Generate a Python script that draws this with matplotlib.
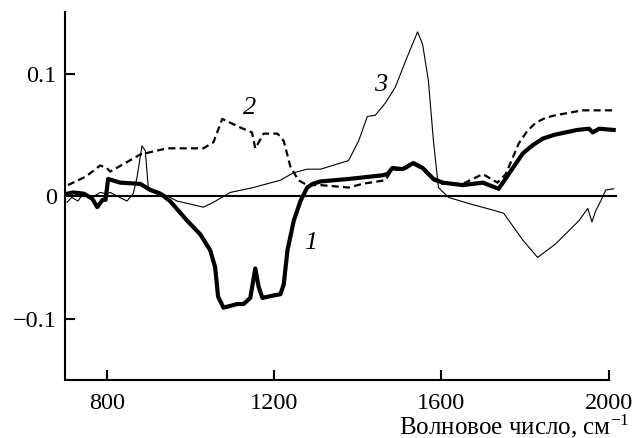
import numpy as np
import matplotlib
matplotlib.use("Agg")
import matplotlib.pyplot as plt

plt.rcParams['font.family'] = ['Liberation Serif', 'DejaVu Serif']
plt.rcParams['mathtext.fontset'] = 'stix'

# curve 1 (thick solid)
x1 = [705, 720, 745, 765, 777, 790, 797, 803, 832, 880, 904, 928, 951, 992, 1023,
      1047, 1059, 1066, 1079, 1112, 1127, 1143, 1155, 1163, 1172, 1199, 1215, 1223,
      1232, 1247, 1263, 1279, 1292, 1311, 1378, 1459, 1471, 1483, 1507, 1533, 1555,
      1581, 1603, 1651, 1699, 1737, 1761, 1795, 1820, 1843, 1870, 1897, 1925, 1953,
      1962, 1977, 2012]
y1 = [0.002, 0.003, 0.002, -0.002, -0.009, -0.003, -0.003, 0.014, 0.011, 0.010,
      0.005, 0.002, -0.004, -0.020, -0.031, -0.044, -0.058, -0.082, -0.091, -0.088,
      -0.088, -0.083, -0.059, -0.074, -0.083, -0.081, -0.080, -0.072, -0.044, -0.020,
      -0.004, 0.007, 0.010, 0.012, 0.014, 0.017, 0.018, 0.023, 0.022, 0.027, 0.023,
      0.014, 0.011, 0.009, 0.011, 0.006, 0.018, 0.035, 0.042, 0.047, 0.050, 0.052,
      0.054, 0.055, 0.052, 0.055, 0.054]

# curve 2 (dashed)
x2 = [707, 750, 784, 800, 808, 880, 944, 1031, 1055, 1076, 1119, 1147, 1155, 1175,
      1208, 1223, 1239, 1258, 1279, 1311, 1378, 1411, 1466, 1483, 1507, 1533, 1555,
      1581, 1603, 1651, 1699, 1734, 1754, 1785, 1805, 1826, 1850, 1873, 1905, 1938,
      2012]
y2 = [0.009, 0.016, 0.025, 0.023, 0.020, 0.034, 0.039, 0.039, 0.044, 0.063, 0.056,
      0.052, 0.039, 0.051, 0.051, 0.045, 0.024, 0.013, 0.009, 0.009, 0.007, 0.010,
      0.013, 0.022, 0.021, 0.026, 0.022, 0.013, 0.010, 0.010, 0.018, 0.011, 0.018,
      0.043, 0.053, 0.060, 0.064, 0.066, 0.068, 0.070, 0.070]

# curve 3 (thin solid)
x3 = [705, 716, 731, 743, 760, 784, 800, 808, 848, 863, 872, 884, 892, 899, 928,
      968, 1031, 1055, 1095, 1150, 1215, 1246, 1279, 1311, 1378, 1402, 1423, 1442,
      1466, 1490, 1514, 1543, 1555, 1569, 1581, 1593, 1617, 1665, 1730, 1749, 1795,
      1830, 1873, 1929, 1950, 1960, 1969, 1981, 1993, 2012]
y3 = [-0.005, -0.001, -0.004, 0.002, -0.002, 0.003, 0.002, 0.003, -0.004, 0.002,
      0.015, 0.041, 0.037, 0.007, 0.003, -0.004, -0.009, -0.005, 0.003, 0.007, 0.013,
      0.019, 0.022, 0.022, 0.029, 0.045, 0.065, 0.066, 0.076, 0.089, 0.110, 0.134,
      0.124, 0.094, 0.045, 0.007, -0.001, -0.006, -0.012, -0.014, -0.036, -0.050,
      -0.039, -0.020, -0.010, -0.021, -0.012, -0.004, 0.005, 0.006]

xticks = [800, 1200, 1600, 2000]
yticks = [-0.1, 0, 0.1]
ytick_labels = ['\u22120.1', '0', '0.1']

fig = plt.figure(figsize=(6.35, 4.38), dpi=100)
ax = fig.add_axes([0.1024, 0.1324, 0.8693, 0.8396])

ax.plot(x3, y3, '-', color='black', lw=0.8)
ax.plot(x2, y2, color='black', lw=1.6, dashes=(3.2, 1.9))
ax.plot(x1, y1, '-', color='black', lw=3.0, solid_joinstyle='round')
ax.axhline(0, color='black', lw=1.5)

ax.set_xlim(700, 2020)
ax.set_ylim(-0.15, 0.15)
for s in ['top', 'right']:
    ax.spines[s].set_visible(False)
ax.spines['bottom'].set_bounds(700, 2000)
for s in ['left', 'bottom']:
    ax.spines[s].set_linewidth(1.5)

ax.set_xticks(xticks)
ax.set_xticklabels([str(t) for t in xticks])
ax.set_yticks(yticks)
ax.set_yticklabels(ytick_labels)
ax.tick_params(direction='in', length=7, width=1.5, labelsize=17.5)
ax.tick_params(axis='x', pad=9)
ax.tick_params(axis='y', pad=6)

ax.text(1141, 0.072, '2', fontsize=19, style='italic', ha='center', va='center')
ax.text(1454, 0.091, '3', fontsize=19, style='italic', ha='center', va='center')
ax.text(1287, -0.038, '1', fontsize=19, style='italic', ha='center', va='center')

fig.text(0.991, 4 / 438, 'Волновое число, см$^{\\mathregular{\u22121}}$',
         ha='right', va='baseline', fontsize=18)

fig.savefig('out.png', dpi=100)
